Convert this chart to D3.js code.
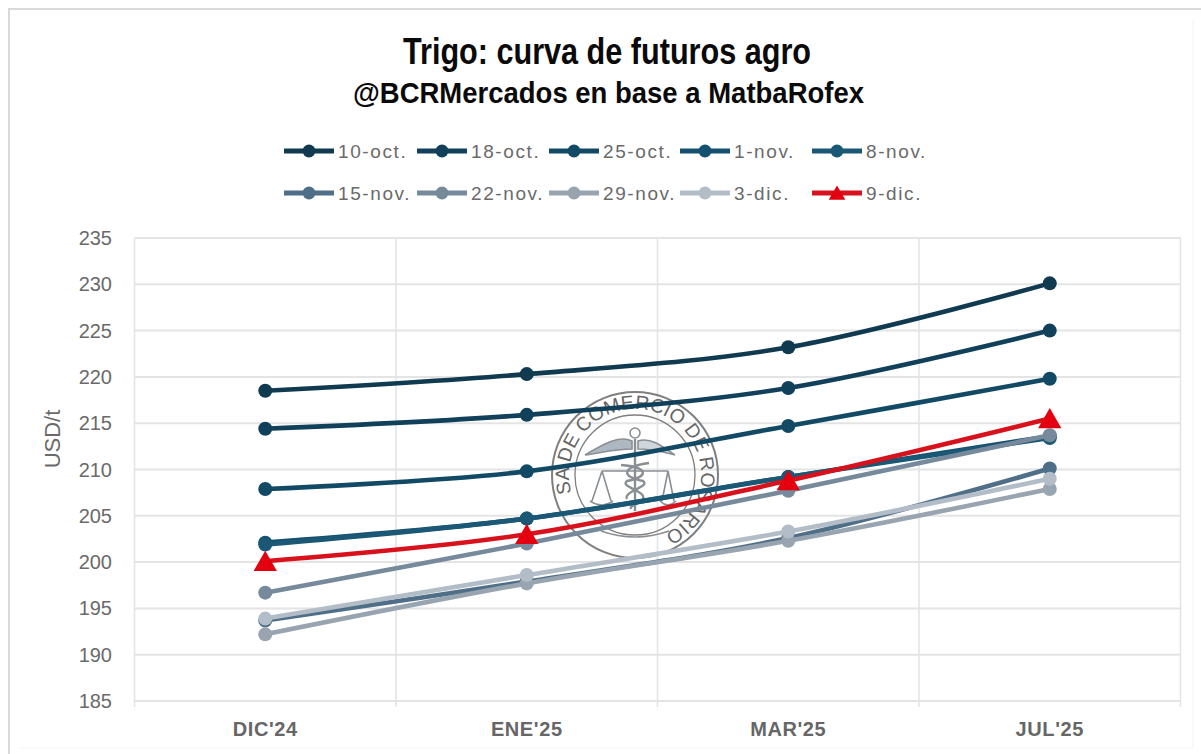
<!DOCTYPE html>
<html><head><meta charset="utf-8">
<script src="https://cdnjs.cloudflare.com/ajax/libs/d3/7.9.0/d3.min.js"></script>
<style>html,body{margin:0;padding:0;background:#fff}svg{display:block}</style>
</head><body><div id="c"></div>
<script>
const categories = ["DIC'24","ENE'25","MAR'25","JUL'25"];
const yTicks = [185,190,195,200,205,210,215,220,225,230,235];
const seriesNames = ["10-oct.","18-oct.","25-oct.","1-nov.","8-nov.","15-nov.","22-nov.","29-nov.","3-dic.","9-dic."];
const s10oct = [218.5,220.3,223.2,230.1];
const s18oct = [214.4,215.9,218.8,225.0];
const s25oct = [207.9,209.8,214.7,219.8];
const s1nov  = [202.1,204.7,209.2,213.6];
const s8nov  = [201.9,204.7,209.2,213.4];
const s15nov = [193.7,197.9,202.6,210.1];
const s22nov = [196.7,202.0,207.7,213.7];
const s29nov = [192.2,197.7,202.3,207.9];
const s3dic  = [193.9,198.6,203.3,209.0];
const s9dic  = [200.1,203.0,208.8,215.5];
const seriesValues = [s10oct,s18oct,s25oct,s1nov,s8nov,s15nov,s22nov,s29nov,s3dic,s9dic];
const seriesColors = ["#0f3a4f","#10405a","#124a66","#14506f","#1a5875","#4f6f88","#768a9c","#98a4b0","#b3bdc7","#d8121c"];
const titleText = "Trigo: curva de futuros agro";
const subtitleText = "@BCRMercados en base a MatbaRofex";
const yLabel = "USD/t";
const sealText = "SA DE COMERCIO DE ROSARIO";

const W=1201,H=754;
const svg=d3.select("#c").append("svg").attr("width",W).attr("height",H);
// outer frame: strong on top and left, faint on right and bottom
svg.append("path").attr("d","M9,754 V9 H1201").attr("fill","none").attr("stroke","#d9d9d9").attr("stroke-width",2);
svg.append("path").attr("d","M21,748 H1193 V20").attr("fill","none").attr("stroke","#f3f3f3").attr("stroke-width",1);

const x=d3.scaleBand().domain(categories).range([134.5,1180.5]);
const y=d3.scaleLinear().domain([185,235]).range([701,238]);
const g=svg.append("g");
g.selectAll("line.h").data(yTicks).join("line").attr("x1",134.5).attr("x2",1180.5)
 .attr("y1",d=>y(d)).attr("y2",d=>y(d)).attr("stroke","#e4e4e4").attr("stroke-width",2);
const edges=categories.map(c=>x(c)).concat([1180.5]);
g.selectAll("line.v").data(edges).join("line").attr("x1",d=>d).attr("x2",d=>d)
 .attr("y1",238).attr("y2",707).attr("stroke","#e2e4e7").attr("stroke-width",1.6);
g.selectAll("text.y").data(yTicks).join("text").attr("x",112).attr("y",d=>y(d)+7).attr("text-anchor","end")
 .attr("font-family","Liberation Sans").attr("font-size",20).attr("fill","#6a6a6a").text(d=>d);
g.selectAll("text.x").data(categories).join("text").attr("x",d=>x(d)+x.bandwidth()/2).attr("y",736).attr("text-anchor","middle")
 .attr("font-family","Liberation Sans").attr("font-weight","bold").attr("font-size",20).attr("letter-spacing",0.6).attr("fill","#666").text(d=>d);
svg.append("text").attr("transform","translate(60,439) rotate(-90)").attr("text-anchor","middle")
 .attr("font-family","Liberation Sans").attr("font-size",22).attr("fill","#6a6a6a").text(yLabel);

// seal
const defs=svg.append("defs");
defs.append("path").attr("id","sealpath").attr("d","M-63.4,18.2 A66,66 0 1 1 17.1,63.8");
const seal=svg.append("g").attr("transform","translate(635,475)").attr("fill","none").attr("stroke","#7f7f7f");
seal.append("circle").attr("r",83).attr("stroke-width",2);
seal.append("circle").attr("r",60).attr("stroke-width",1.3);
seal.append("text").attr("font-family","Liberation Sans").attr("font-size",19.5).attr("fill","#666").attr("stroke","none")
 .append("textPath").attr("href","#sealpath").text(sealText);
const dec=seal.append("g").attr("stroke","#8a8f94").attr("stroke-width",1.6);
dec.append("path").attr("d","M-50,-20 C-30,-32 -15,-40 -3,-34 L-3,-26 C-20,-26 -35,-22 -50,-20Z").attr("fill","#aeb8c1");
dec.append("path").attr("d","M40,-20 C26,-30 15,-38 3,-34 L3,-26 C18,-26 28,-23 40,-20Z").attr("fill","#cfd6dc");
dec.append("circle").attr("cx",0).attr("cy",-42).attr("r",5);
dec.append("path").attr("d","M0,-36 L0,36 M-14,-10 C14,-8 14,2 -8,6 C-16,12 12,16 8,24 C4,30 -6,30 -4,34").attr("stroke-width",2.4);
dec.append("path").attr("d","M14,-12 C-14,-8 -14,2 8,6 C16,12 -12,16 -8,24").attr("stroke-width",2.4);
dec.append("path").attr("d","M-33,-4 L33,-4 M-33,-4 L-43,26 M-33,-4 L-24,26 M33,-4 L27,26 M33,-4 L39,26 M-45,26 Q-33,34 -22,26 M25,26 Q33,34 41,26");
dec.append("path").attr("d","M-34,56 Q0,68 34,56");

// lines
const line=d3.line().x((d,i)=>x(categories[i])+x.bandwidth()/2).y(d=>y(d)).curve(d3.curveCardinal.tension(0));
const marks=svg.append("g");
d3.range(10).forEach(i=>{
  const s=marks.append("g");
  s.append("path").attr("d",line(seriesValues[i])).attr("fill","none").attr("stroke",seriesColors[i]).attr("stroke-width",4.6).attr("stroke-linecap","round");
  if(i<9){
    s.selectAll("circle").data(seriesValues[i]).join("circle").attr("cx",(d,j)=>x(categories[j])+x.bandwidth()/2).attr("cy",d=>y(d)).attr("r",7).attr("fill",seriesColors[i]);
  } else {
    s.selectAll("path.m").data(seriesValues[i]).join("path").attr("class","m")
     .attr("transform",(d,j)=>`translate(${x(categories[j])+x.bandwidth()/2},${y(d)+3})`)
     .attr("d",d3.symbol(d3.symbolTriangle,235)()).attr("fill","#e3000f");
  }
});

// titles
svg.append("text").attr("x",403).attr("y",64).attr("textLength",408).attr("lengthAdjust","spacingAndGlyphs").attr("font-family","Liberation Sans").attr("font-weight","bold").attr("font-size",37).attr("fill","#0a0a0a").text(titleText);
svg.append("text").attr("x",353).attr("y",103).attr("textLength",511).attr("lengthAdjust","spacingAndGlyphs").attr("font-family","Liberation Sans").attr("font-weight","bold").attr("font-size",29.5).attr("fill","#0a0a0a").text(subtitleText);

// legend
const legX=[284,417,549,680,812];
const legY=[151,193];
const leg=svg.append("g");
seriesNames.forEach((n,i)=>{
  const col=i%5,row=Math.floor(i/5);
  const gg=leg.append("g").attr("transform",`translate(${legX[col]},${legY[row]})`);
  gg.append("line").attr("x1",0).attr("x2",50).attr("stroke",seriesColors[i]).attr("stroke-width",5);
  if(i<9) gg.append("circle").attr("cx",25).attr("r",6.5).attr("fill",seriesColors[i]);
  else gg.append("path").attr("transform","translate(25,2)").attr("d",d3.symbol(d3.symbolTriangle,120)()).attr("fill","#e3000f");
  gg.append("text").attr("x",54).attr("y",7).attr("font-family","Liberation Sans").attr("font-size",19).attr("letter-spacing",1.6).attr("fill","#6a6a6a").text(n);
});
</script></body></html>
